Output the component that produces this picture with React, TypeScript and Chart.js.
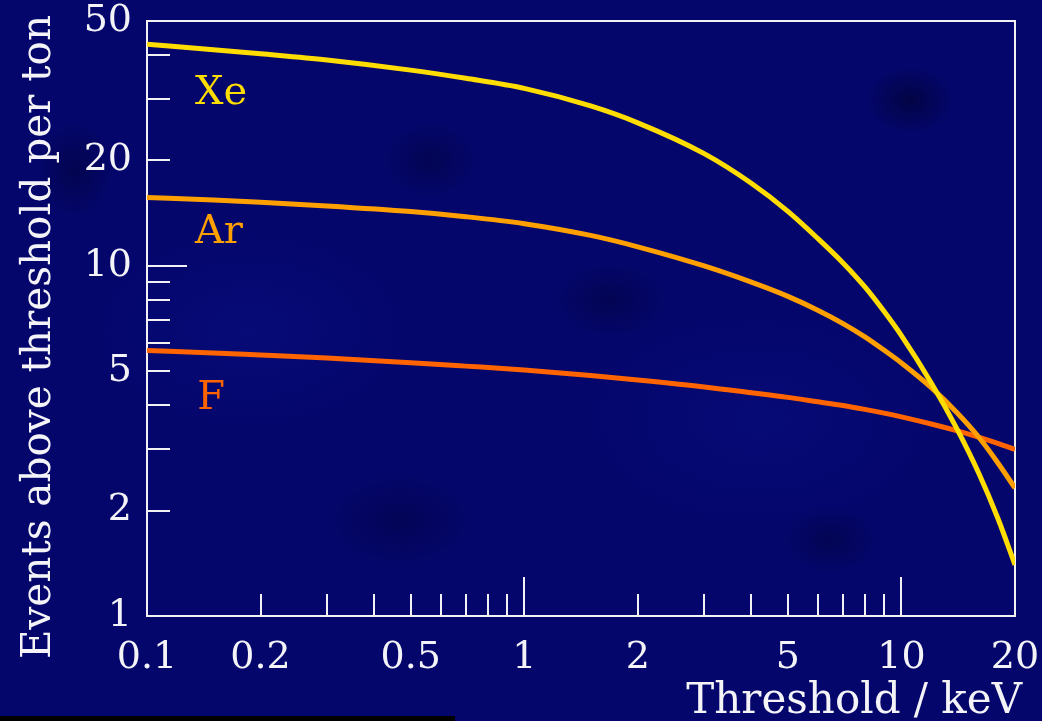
import React, { useEffect, useRef } from "react";
import { Chart, registerables } from "chart.js";

Chart.register(...registerables);

// ---- data ----
const thresholds = [0.1, 0.15, 0.2, 0.3, 0.5, 0.7, 1, 1.5, 2, 3, 4, 5, 6, 7, 8, 9, 10, 12, 14, 16, 18, 20];
const xenon = [42.9, 41.4, 40.3, 38.7, 36.2, 34.3, 32.1, 28.6, 25.6, 20.9, 17.2, 14.3, 11.97, 10.19, 8.7, 7.4, 6.32, 4.63, 3.44, 2.57, 1.905, 1.4];
const argon = [15.68, 15.4, 15.18, 14.82, 14.28, 13.81, 13.19, 12.21, 11.33, 9.99, 8.98, 8.18, 7.47, 6.84, 6.27, 5.74, 5.28, 4.49, 3.82, 3.25, 2.74, 2.32];
const fluorine = [5.73, 5.64, 5.56, 5.45, 5.29, 5.17, 5.04, 4.86, 4.72, 4.51, 4.34, 4.21, 4.09, 3.99, 3.89, 3.796, 3.704, 3.534, 3.383, 3.243, 3.113, 2.99];

const xTickLabels = [0.1, 0.2, 0.5, 1, 2, 5, 10, 20];
const yTickLabels = [1, 2, 5, 10, 20, 50];
const xMajorMarks = [1, 10];
const xMinorMarks = [0.2, 0.3, 0.4, 0.5, 0.6, 0.7, 0.8, 0.9, 2, 3, 4, 5, 6, 7, 8, 9];
const yMajorMarks = [10];
const yMinorMarks = [2, 3, 4, 5, 6, 7, 8, 9, 20, 30, 40];

const seriesNames = ["Xe", "Ar", "F"];
const seriesColors = ["#ffdd00", "#ffa000", "#ff6400"];
const labelAtX = [0.134, 0.134, 0.136];
const labelAtY = [29.0, 11.6, 3.89];

const xTitle = "Threshold / keV";
const yTitle = "Events above threshold per ton";

const FONT = '"DejaVu Serif", serif';

export default function App() {
  const ref = useRef<HTMLCanvasElement | null>(null);

  useEffect(() => {
    document.body.style.margin = "0";
    const canvas = ref.current;
    if (!canvas) return;

    const series = [xenon, argon, fluorine];

    const framePlugin = {
      id: "frame",
      beforeDatasetsDraw(chart: any) {
        const { ctx, chartArea } = chart;
        const xs = chart.scales.x;
        const ys = chart.scales.y;
        const { left, right, top, bottom } = chartArea;
        ctx.save();
        ctx.strokeStyle = "#f2f2f6";
        ctx.lineWidth = 2;
        ctx.beginPath();
        ctx.rect(left, top, right - left, bottom - top);
        ctx.stroke();
        ctx.beginPath();
        for (const v of xMinorMarks) {
          const p = Math.round(xs.getPixelForValue(v));
          ctx.moveTo(p, bottom);
          ctx.lineTo(p, bottom - 22);
        }
        for (const v of xMajorMarks) {
          const p = Math.round(xs.getPixelForValue(v));
          ctx.moveTo(p, bottom);
          ctx.lineTo(p, bottom - 39);
        }
        for (const v of yMinorMarks) {
          const p = Math.round(ys.getPixelForValue(v));
          ctx.moveTo(left, p);
          ctx.lineTo(left + 23, p);
        }
        for (const v of yMajorMarks) {
          const p = Math.round(ys.getPixelForValue(v));
          ctx.moveTo(left, p);
          ctx.lineTo(left + 40, p);
        }
        ctx.stroke();
        ctx.restore();
      },
      afterDraw(chart: any) {
        const { ctx } = chart;
        const xs = chart.scales.x;
        const ys = chart.scales.y;
        ctx.save();
        ctx.textBaseline = "alphabetic";
        ctx.fillStyle = "#f4f4f8";
        ctx.font = "42px " + FONT;
        ctx.textAlign = "right";
        ctx.fillText(xTitle, 1022, 713);
        ctx.save();
        ctx.font = "40.5px " + FONT;
        ctx.translate(50, 337);
        ctx.rotate(-Math.PI / 2);
        ctx.textAlign = "center";
        ctx.fillText(yTitle, 0, 0);
        ctx.restore();
        ctx.font = "40px " + FONT;
        ctx.textAlign = "left";
        seriesNames.forEach((name, i) => {
          ctx.fillStyle = seriesColors[i];
          ctx.fillText(name, xs.getPixelForValue(labelAtX[i]), ys.getPixelForValue(labelAtY[i]));
        });
        ctx.restore();
      },
    };

    const chart = new Chart(canvas, {
      type: "line",
      data: {
        datasets: series.map((vals, i) => ({
          label: seriesNames[i],
          data: thresholds.map((x, j) => ({ x, y: vals[j] })),
          borderColor: seriesColors[i],
          borderWidth: 5,
          pointRadius: 0,
          fill: false,
          cubicInterpolationMode: "monotone",
          borderCapStyle: "butt",
        })),
      },
      options: {
        responsive: false,
        animation: false,
        layout: { padding: { left: 0, right: 27, top: 21, bottom: 0 } },
        plugins: { legend: { display: false }, tooltip: { enabled: false } },
        scales: {
          x: {
            type: "logarithmic",
            min: 0.1,
            max: 20,
            grid: { display: false, drawTicks: false },
            border: { display: false },
            afterBuildTicks(scale: any) {
              scale.ticks = xTickLabels.map((v) => ({ value: v }));
            },
            afterFit(scale: any) {
              scale.height = 105;
              scale.paddingLeft = 0;
              scale.paddingRight = 0;
            },
            ticks: {
              autoSkip: false,
              maxRotation: 0,
              padding: 23,
              color: "#f4f4f8",
              font: { family: FONT, size: 38, lineHeight: 1 },
              callback: (v: any) => String(v),
            },
          },
          y: {
            type: "logarithmic",
            min: 1,
            max: 50,
            grid: { display: false, drawTicks: false },
            border: { display: false },
            afterBuildTicks(scale: any) {
              scale.ticks = yTickLabels.map((v) => ({ value: v }));
            },
            afterFit(scale: any) {
              scale.width = 147;
              scale.paddingTop = 0;
              scale.paddingBottom = 0;
            },
            ticks: {
              autoSkip: false,
              padding: 15,
              color: "#f4f4f8",
              font: { family: FONT, size: 38, lineHeight: 1 },
              callback: (v: any) => String(v),
            },
          },
        },
      },
      plugins: [framePlugin],
    });

    return () => chart.destroy();
  }, []);

  const bg =
    "radial-gradient(ellipse 45px 35px at 910px 100px, rgba(0,0,20,0.45), transparent)," +
    "radial-gradient(ellipse 50px 40px at 430px 160px, rgba(0,0,25,0.3), transparent)," +
    "radial-gradient(ellipse 60px 40px at 610px 300px, rgba(0,0,25,0.3), transparent)," +
    "radial-gradient(ellipse 50px 35px at 830px 540px, rgba(0,0,25,0.3), transparent)," +
    "radial-gradient(ellipse 80px 50px at 400px 520px, rgba(0,0,25,0.25), transparent)," +
    "radial-gradient(ellipse 40px 50px at 75px 170px, rgba(0,0,25,0.35), transparent)," +
    "radial-gradient(ellipse 160px 100px at 250px 330px, rgba(15,25,150,0.25), transparent)," +
    "radial-gradient(ellipse 180px 110px at 760px 420px, rgba(15,25,150,0.22), transparent)," +
    "#04066c";

  return (
    <div style={{ position: "fixed", left: 0, top: 0, width: 1042, height: 721, background: bg, overflow: "hidden" }}>
      <canvas ref={ref} width={1042} height={721} style={{ display: "block", width: 1042, height: 721 }} />
      <div style={{ position: "absolute", left: 0, top: 716, width: 455, height: 5, background: "#000" }} />
    </div>
  );
}
